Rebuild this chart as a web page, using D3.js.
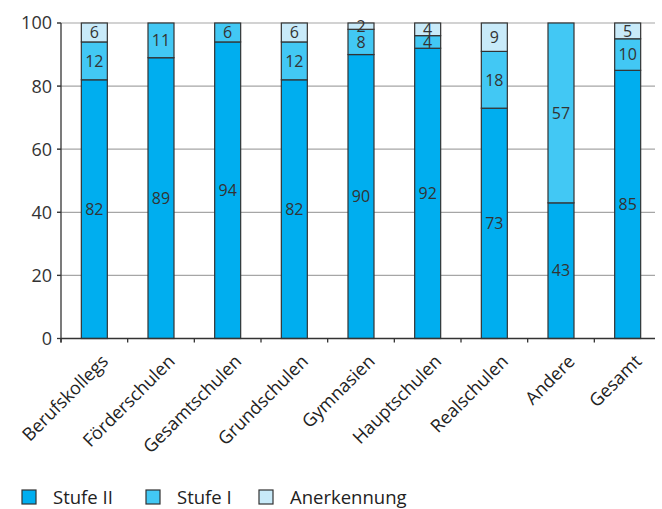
<!DOCTYPE html>
<html>
<head>
<meta charset="utf-8">
<script src="https://cdn.jsdelivr.net/npm/d3@7"></script>
<style>
  html, body { margin: 0; padding: 0; background: #fff; }
  svg { display: block; font-family: "Open Sans", "Noto Sans", sans-serif; }
</style>
</head>
<body>
<svg id="chart" width="662" height="509"></svg>
<script>
// Schulformen
const categories = ["Berufskollegs", "Förderschulen", "Gesamtschulen", "Grundschulen",
  "Gymnasien", "Hauptschulen", "Realschulen", "Andere", "Gesamt"];
// Anteile in Prozent
const stufeII     = [82, 89, 94, 82, 90, 92, 73, 43, 85];
const stufeI      = [12, 11, 6, 12, 8, 4, 18, 57, 10];
const anerkennung = [6, 0, 0, 6, 2, 4, 9, 0, 5];
const yTicks = [0, 20, 40, 60, 80, 100];

const seriesNames = ["Stufe II", "Stufe I", "Anerkennung"];
const seriesData = [stufeII, stufeI, anerkennung];
const colors = ["#00aeef", "#42c8f4", "#c8eaf9"];

const svg = d3.select("#chart");
const plotLeft = 61, plotRight = 661, plotTop = 23, plotBottom = 338.5, gridEnd = 655;

const x = d3.scaleBand().domain(categories).range([plotLeft, plotRight])
  .paddingInner(0.61).paddingOuter(0.305);
const y = d3.scaleLinear().domain([0, 100]).range([plotBottom, plotTop]);

// Gitterlinien
svg.append("g").selectAll("line").data(yTicks.filter(t => t > 0)).join("line")
  .attr("x1", plotLeft - 4).attr("x2", gridEnd)
  .attr("y1", d => y(d)).attr("y2", d => y(d))
  .attr("stroke", "#a6a6a6").attr("stroke-width", 1.2);

// Stapel
const rows = categories.map((c, i) => {
  const r = { cat: c };
  seriesNames.forEach((s, k) => r[s] = seriesData[k][i]);
  return r;
});
const stacked = d3.stack().keys(seriesNames)(rows);

const layers = svg.append("g").selectAll("g").data(stacked).join("g")
  .attr("fill", (d, i) => colors[i]);
layers.selectAll("rect").data(d => d.filter(p => p[1] - p[0] > 0)).join("rect")
  .attr("x", d => x(d.data.cat))
  .attr("width", x.bandwidth())
  .attr("y", d => y(d[1]))
  .attr("height", d => y(d[0]) - y(d[1]))
  .attr("stroke", "#333").attr("stroke-width", 1.2);

// Wertbeschriftungen
layers.selectAll("text").data(d => d.filter(p => p[1] - p[0] > 0)).join("text")
  .attr("x", d => x(d.data.cat) + x.bandwidth() / 2)
  .attr("y", d => y((d[0] + d[1]) / 2))
  .attr("dy", "0.36em")
  .attr("text-anchor", "middle")
  .attr("font-size", 16)
  .attr("fill", "#333")
  .text(d => d[1] - d[0]);

// y-Achse
const yAxis = svg.append("g");
yAxis.append("line").attr("x1", plotLeft).attr("x2", plotLeft).attr("y1", plotTop).attr("y2", plotBottom + 4)
  .attr("stroke", "#333").attr("stroke-width", 1.3);
yAxis.selectAll("line.tick").data(yTicks).join("line").attr("class", "tick")
  .attr("x1", plotLeft - 4).attr("x2", plotLeft).attr("y1", d => y(d)).attr("y2", d => y(d))
  .attr("stroke", "#333").attr("stroke-width", 1.3);
yAxis.selectAll("text").data(yTicks).join("text")
  .attr("x", plotLeft - 9).attr("y", d => y(d)).attr("dy", "0.36em")
  .attr("text-anchor", "end").attr("font-size", 18).attr("fill", "#333")
  .text(d => d);

// x-Achse
const step = x.step();
const xAxis = svg.append("g");
xAxis.append("line").attr("x1", plotLeft).attr("x2", gridEnd).attr("y1", plotBottom).attr("y2", plotBottom)
  .attr("stroke", "#333").attr("stroke-width", 1.3);
xAxis.selectAll("line.tick").data(d3.range(categories.length)).join("line").attr("class", "tick")
  .attr("x1", i => plotLeft + i * step).attr("x2", i => plotLeft + i * step)
  .attr("y1", plotBottom).attr("y2", plotBottom + 4)
  .attr("stroke", "#333").attr("stroke-width", 1.3);
xAxis.selectAll("text").data(categories).join("text")
  .attr("transform", d => `translate(${x(d) + x.bandwidth() / 2 + 15},${plotBottom + 24}) rotate(-45)`)
  .attr("text-anchor", "end").attr("font-size", 18).attr("fill", "#222")
  .text(d => d);

// Legende
const legendX = [22, 146, 259];
const legend = svg.append("g").selectAll("g").data(seriesNames).join("g")
  .attr("transform", (d, i) => `translate(${legendX[i]},490)`);
legend.append("rect").attr("width", 14).attr("height", 14)
  .attr("fill", (d, i) => colors[i]).attr("stroke", "#333").attr("stroke-width", 1.2);
legend.append("text").attr("x", 31).attr("y", 14).attr("font-size", 18.5).attr("fill", "#222")
  .text(d => d);
</script>
</body>
</html>
